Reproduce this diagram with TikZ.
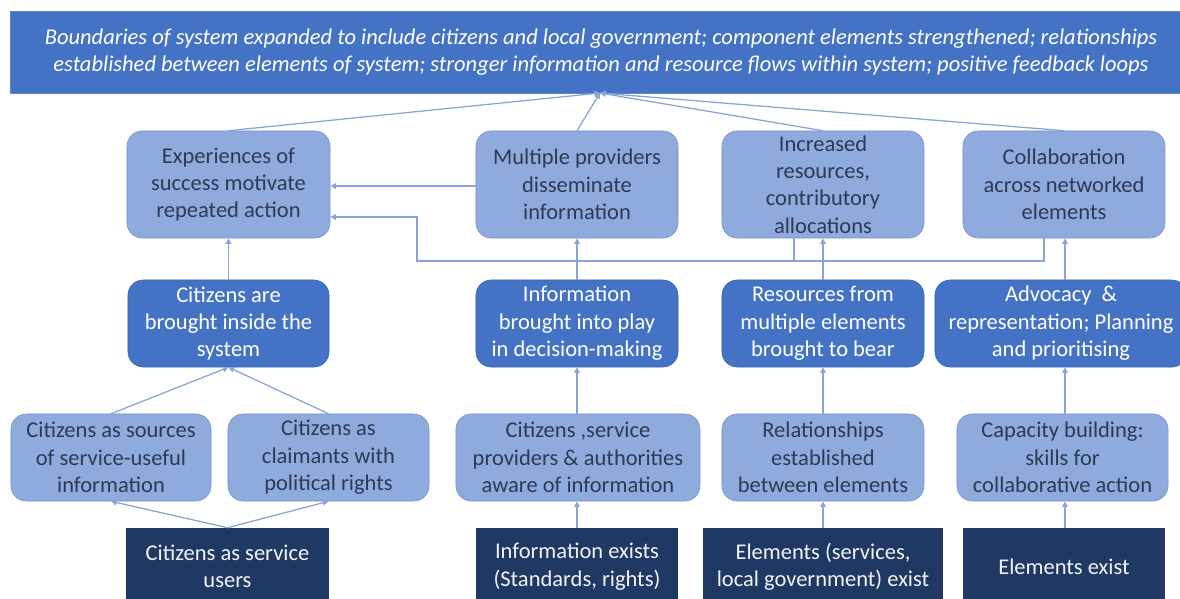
\documentclass[tikz,border=0pt]{standalone}
\usepackage{fontspec}
\setmainfont{Carlito}
\usetikzlibrary{positioning, calc, arrows.meta}

\definecolor{goalblue}{HTML}{4472C4}
\definecolor{paleblue}{HTML}{8FAADC}
\definecolor{paleedge}{HTML}{7393CC}
\definecolor{midedge}{HTML}{3A64B0}
\definecolor{navy}{HTML}{203864}
\definecolor{inkblue}{HTML}{2E3A55}
\definecolor{linkblue}{HTML}{8AA4D6}

\begin{document}
\begin{tikzpicture}[x=0.025cm, y=-0.025cm,
    every node/.style={font=\fontsize{16}{19.5}\selectfont, align=center, inner sep=0pt},
    goalbox/.style={draw=goalblue!85!white, fill=goalblue, text=white,
      font=\fontsize{16}{19.3}\selectfont\itshape},
    palebox/.style={draw=paleedge, fill=paleblue, text=inkblue, rounded corners=0.38cm},
    midbox/.style={draw=midedge, fill=goalblue, text=white, rounded corners=0.38cm},
    navybox/.style={fill=navy, text=white!94!navy},
    link/.style={draw=linkblue, line width=0.9pt},
    tip/.style={link, -{Triangle[length=4pt, width=4pt]}}]
    \useasboundingbox (0,0) rectangle (1180,599);

    % outcome at the top
    \node[goalbox, minimum width=29.55cm, minimum height=2.05cm] (goal) at (601,52)
        {Boundaries of system expanded to include citizens and local government; component elements strengthened; relationships\\
         established between elements of system; stronger information and resource flows within system; positive feedback loops};
    \coordinate (apex) at (600,93);

    % first row
    \node[palebox, minimum width=5.075cm, minimum height=2.675cm] (exp) at (228.5,184.5) {Experiences of\\success motivate\\repeated action};
    \node[palebox, minimum width=5.05cm, minimum height=2.675cm] (mult) at (577,184.5) {Multiple providers\\disseminate\\information};
    \node[palebox, minimum width=5.05cm, minimum height=2.675cm] (incr) at (823,184.5) {Increased\\resources,\\contributory\\allocations};
    \node[palebox, minimum width=5.05cm, minimum height=2.675cm] (coll) at (1064,184.5) {Collaboration\\across networked\\elements};

    % second row
    \node[midbox, minimum width=5.025cm, minimum height=2.175cm] (brought) at (228.5,323.5) {Citizens are\\brought inside the\\system};
    \node[midbox, minimum width=5.05cm, minimum height=2.175cm] (infob) at (577,323.5) {Information\\brought into play\\in decision-making};
    \node[midbox, minimum width=5.05cm, minimum height=2.175cm] (resb) at (823,323.5) {Resources from\\multiple elements\\brought to bear};
    \node[midbox, minimum width=6.3cm, minimum height=2.175cm] (advoc) at (1061,323.5) {Advocacy \ \&\\representation; Planning\\and prioritising};

    % third row
    \node[palebox, minimum width=5cm, minimum height=2.175cm] (csrc) at (111,457.5) {Citizens as sources\\of service-useful\\information};
    \node[palebox, minimum width=5.025cm, minimum height=2.175cm] (cclaim) at (328.5,457.5) {Citizens as\\claimants with\\political rights};
    \node[palebox, minimum width=6.1cm, minimum height=2.175cm] (caware) at (578,457.5) {Citizens ,service\\providers \& authorities\\aware of information};
    \node[palebox, minimum width=5.05cm, minimum height=2.175cm] (relest) at (823,457.5) {Relationships\\established\\between elements};
    \node[palebox, minimum width=5.275cm, minimum height=2.175cm] (capb) at (1062.5,457.5) {Capacity building:\\skills for\\collaborative action};

    % starting points
    \node[navybox, minimum width=5.075cm, minimum height=1.925cm] (cusers) at (227.5,566.5) {Citizens as service\\users};
    \node[navybox, minimum width=5.05cm, minimum height=1.925cm] (infoex) at (577,566.5) {Information exists\\(Standards, rights)};
    \node[navybox, minimum width=6cm, minimum height=1.925cm] (elsvc) at (823,566.5) {Elements (services,\\local government) exist};
    \node[navybox, minimum width=5.05cm, minimum height=1.925cm] (elex) at (1064,566.5) {Elements exist};

    % columns and loop
    \coordinate (colB) at (577,0);
    \coordinate (colC) at (823,0);
    \coordinate (colD) at (1065,0);
    \coordinate (tapI) at (794,0);
    \coordinate (tapC) at (1044,0);
    \coordinate (loopturn) at (417,261);
    \coordinate (loopin) at (417,217);

    % into the outcome
    \draw[tip] (exp.north) -- (apex);
    \draw[tip] (mult.north) -- (apex);
    \draw[tip] (incr.north) -- (apex);
    \draw[tip] (coll.north) -- (apex);

    % citizens column
    \draw[tip] (cusers.north) -- (csrc.south);
    \draw[tip] (cusers.north) -- (cclaim.south);
    \draw[tip] (csrc.north) -- (brought.south);
    \draw[tip] (cclaim.north) -- (brought.south);
    \draw[tip] (brought) -- (exp);

    % information column
    \draw[tip] (infoex.north -| colB) -- (caware.south -| colB);
    \draw[tip] (caware.north -| colB) -- (infob.south -| colB);
    \draw[tip] (infob.north -| colB) -- (mult.south -| colB);

    % resources column
    \draw[tip] (elsvc.north -| colC) -- (relest.south -| colC);
    \draw[tip] (relest.north -| colC) -- (resb.south -| colC);
    \draw[tip] (resb.north -| colC) -- (incr.south -| colC);

    % collaboration column
    \draw[tip] (elex.north -| colD) -- (capb.south -| colD);
    \draw[tip] (capb.north -| colD) -- (advoc.south -| colD);
    \draw[tip] (advoc.north -| colD) -- (coll.south -| colD);

    % feedback
    \draw[tip] (mult.west |- 0,186) -- (exp.east |- 0,186);
    \draw[tip] (coll.south -| tapC) |- (loopturn) -- (loopin) -- (loopin -| exp.east);
    \draw[link] (incr.south -| tapI) -- (tapI |- loopturn);
\end{tikzpicture}
\end{document}
